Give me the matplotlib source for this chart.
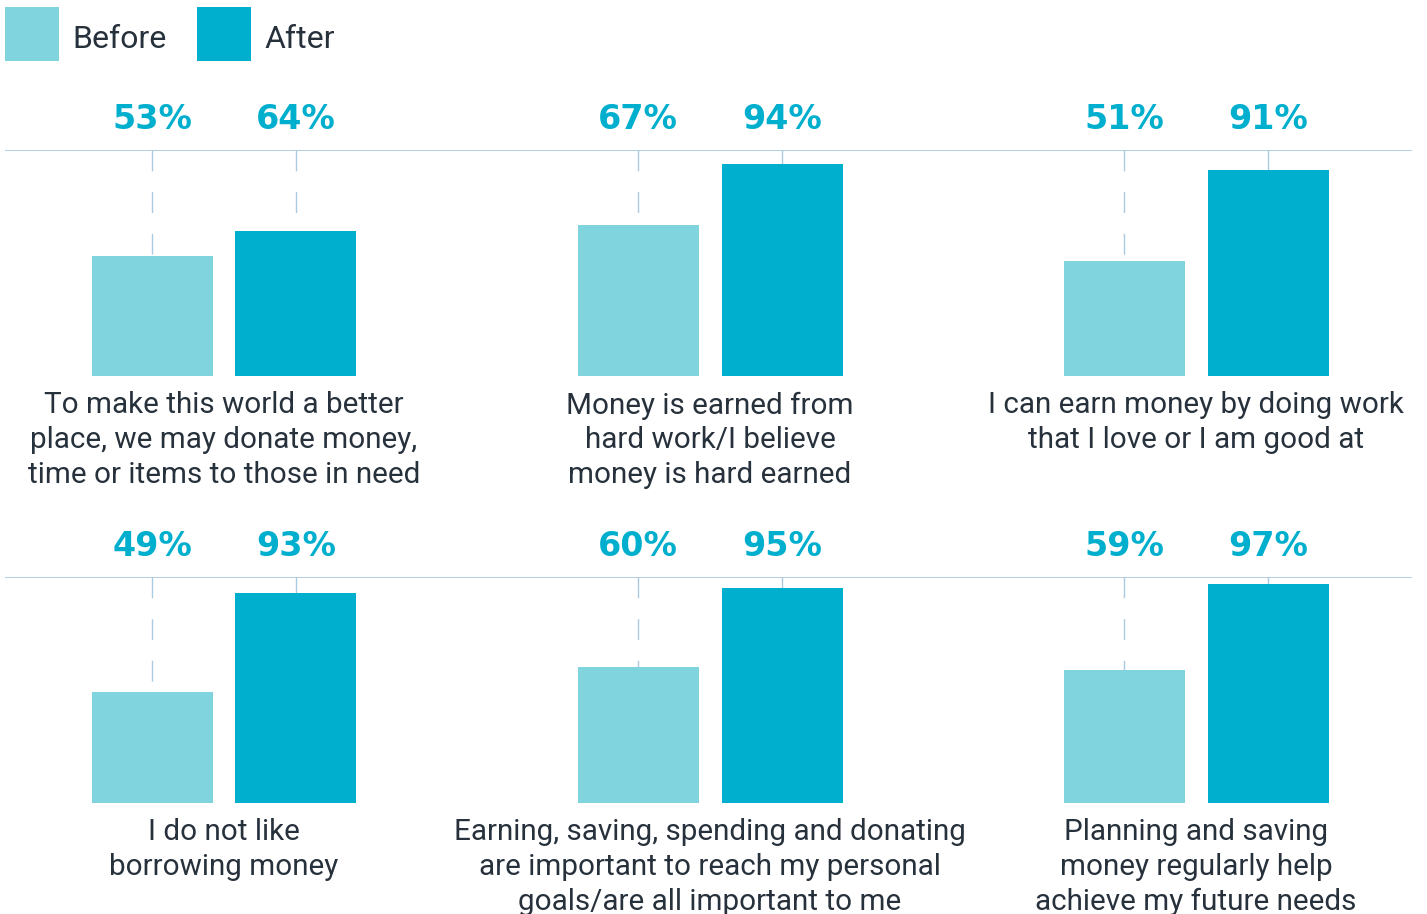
import matplotlib.pyplot as plt
from matplotlib.lines import Line2D

# survey statements, two rows of three
labels_top = [
    "To make this world a better\nplace, we may donate money,\ntime or items to those in need",
    "Money is earned from\nhard work/I believe\nmoney is hard earned",
    "I can earn money by doing work\nthat I love or I am good at",
]
labels_bottom = [
    "I do not like\nborrowing money",
    "Earning, saving, spending and donating\nare important to reach my personal\ngoals/are all important to me",
    "Planning and saving\nmoney regularly help\nachieve my future needs",
]
before_top = [53, 67, 51]
after_top = [64, 94, 91]
before_bottom = [49, 60, 59]
after_bottom = [93, 95, 97]

c_before = '#7fd4de'
c_after = '#00aecd'
c_line = '#a9cbe2'
c_text = '#27313c'

W, H = 1427, 914
fig = plt.figure(figsize=(W / 100, H / 100), dpi=100)

label_font = dict(family=['Roboto', 'DejaVu Sans'], fontweight='normal',
                  fontsize=21.3, color=c_text)
pct_font = dict(family=['DejaVu Sans'], fontweight='bold', fontsize=24,
                color=c_after)


def draw_row(base_px, labels, before, after):
    # axes spans the row: y=0 at the bar base, y=100 at the top line
    ax = fig.add_axes([5 / W, 1 - base_px / H, 1407 / W, 226 / H])
    ax.set_xlim(-0.4506, 2.444)
    ax.set_ylim(0, 100)
    ax.axis('off')
    xs = range(len(labels))
    off, bw = 0.148, 0.249
    for vals, sgn, col in [(before, -1, c_before), (after, 1, c_after)]:
        pos = [x + sgn * off for x in xs]
        ax.bar(pos, vals, width=bw, color=col, zorder=2)
        for p, v in zip(pos, vals):
            ax.plot([p, p], [100, v], color=c_line, lw=1.0,
                    linestyle=(0, (15, 15)), zorder=1)
            ax.text(p, 109.5, f"{v}%", ha='center', va='baseline',
                    clip_on=False, **pct_font)
    ax.axhline(100, color=c_line, lw=1.3, zorder=1)
    for x, lab in zip(xs, labels):
        ax.text(x, -6.8, lab, ha='center', va='top', linespacing=1.3,
                clip_on=False, **label_font)


draw_row(376, labels_top, before_top, after_top)
draw_row(803, labels_bottom, before_bottom, after_bottom)

handles = [Line2D([], [], ls='none', marker='s', markersize=38.2,
                  markeredgewidth=0, color=c, label=l)
           for c, l in [(c_before, 'Before'), (c_after, 'After')]]
leg = fig.legend(handles=handles, loc='upper left',
                 bbox_to_anchor=(5 / W, 1 - 19 / H),
                 ncol=2, frameon=False, borderpad=0, borderaxespad=0,
                 handlelength=1.66, handleheight=1.40, handletextpad=0.45,
                 columnspacing=0.95,
                 prop=dict(family=['Roboto', 'DejaVu Sans'], weight='normal',
                           size=23))
for t in leg.get_texts():
    t.set_color(c_text)

fig.savefig('out.png', dpi=100)
